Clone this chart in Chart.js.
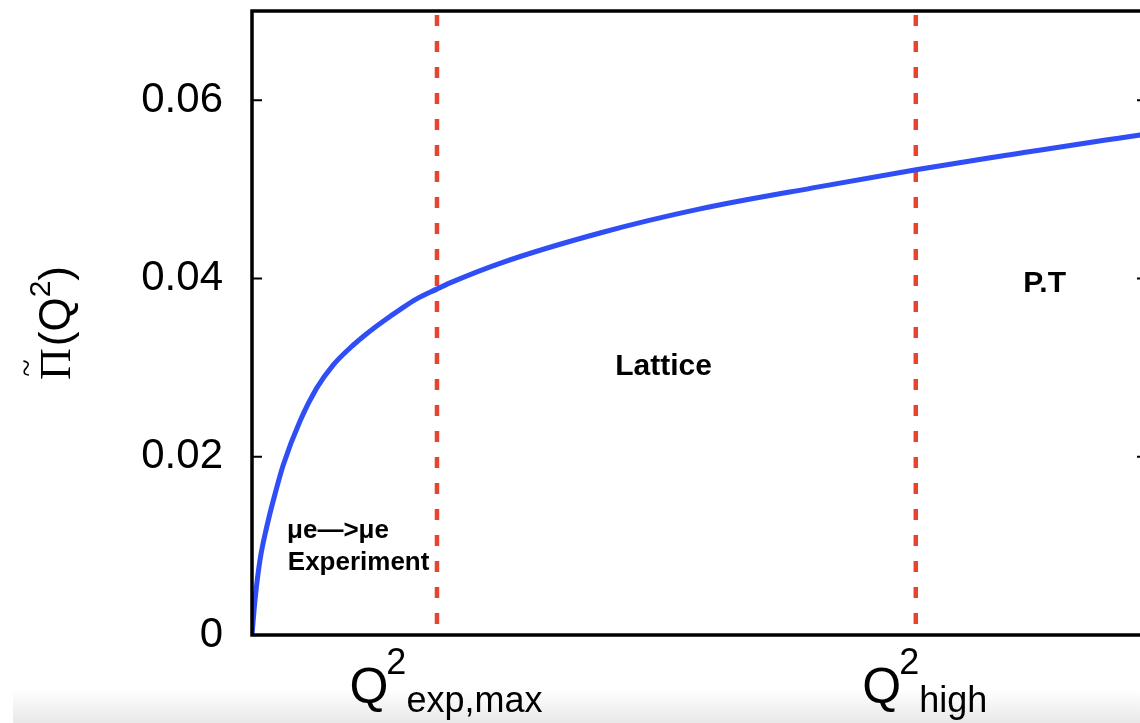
<!DOCTYPE html>
<html>
<head>
<meta charset="utf-8">
<script src="https://cdn.jsdelivr.net/npm/chart.js@4.4.0/dist/chart.umd.min.js"></script>
<style>
  html, body { margin: 0; padding: 0; background: #fff; overflow: hidden; }
  #wrap { position: relative; width: 1140px; height: 723px; overflow: hidden; }
  #shade { position: absolute; left: 13px; top: 690px; width: 1127px; height: 33px;
           background: linear-gradient(#ffffff, #e8e8e8); }
  canvas { position: absolute; left: 0; top: 0; }
</style>
</head>
<body>
<div id="wrap">
  <div id="shade"></div>
  <canvas id="chart" width="1150" height="723"></canvas>
</div>
<script>
// Q^2 (arbitrary units) and the subtracted vacuum polarisation
const qValues = [0, 0.040, 0.107, 0.197, 0.308, 0.420, 0.644, 0.868, 1.090, 1.314, 1.538, 1.760, 1.984, 2.208, 2.477, 2.655, 3.325, 4.666, 6.007, 7.616, 8.903, 10.03, 11.91, 12.0];
const piValues = [0, 0.0039, 0.0084, 0.0121, 0.0158, 0.0191, 0.0240, 0.0277, 0.0303, 0.0322, 0.0338, 0.0352, 0.0365, 0.0377, 0.0388, 0.0395, 0.0417, 0.0451, 0.0478, 0.0503, 0.0522, 0.0537, 0.0561, 0.0562];

// vertical region boundaries
const boundaryQ = [2.48, 8.90];
const boundarySub = ['exp,max', 'high'];

// y ticks
const yTicks = [0, 0.02, 0.04, 0.06];
const yMax = 0.07;
const qMax = 12;

// region labels: text, q, pi (baseline, left aligned)
const regionText = ['\u03bce\u2014>\u03bce', 'Experiment', 'Lattice', 'P.T'];
const regionQ = [0.47, 0.48, 4.87, 10.34];
const regionPi = [0.0109, 0.0073, 0.0292, 0.0385];
const regionSize = [26, 26, 30, 30];

const curve = qValues.map((q, i) => ({ x: q, y: piValues[i] }));

const boundarySets = boundaryQ.map(q => ({
  data: [{ x: q, y: yMax }, { x: q, y: 0 }],
  borderColor: '#e8432f',
  borderWidth: 4.5,
  borderDash: [11, 15],
  borderDashOffset: -4,
  pointRadius: 0,
  order: 1
}));

// frame + inward ticks, annotations, axis labels
const decorations = {
  id: 'decorations',
  afterDraw(chart) {
    const ctx = chart.ctx;
    const a = chart.chartArea;
    const xs = chart.scales.x;
    const ys = chart.scales.y;
    ctx.save();

    // frame
    ctx.strokeStyle = '#000';
    ctx.lineWidth = 3.5;
    ctx.strokeRect(a.left, a.top, a.right - a.left, a.bottom - a.top);

    // inward ticks on both sides
    ctx.lineWidth = 2;
    yTicks.forEach(v => {
      const y = ys.getPixelForValue(v);
      ctx.beginPath();
      ctx.moveTo(a.left, y); ctx.lineTo(a.left + 10, y);
      ctx.moveTo(a.right, y); ctx.lineTo(a.right - 10, y);
      ctx.stroke();
    });

    // region labels
    ctx.fillStyle = '#000';
    ctx.textBaseline = 'alphabetic';
    ctx.textAlign = 'left';
    regionText.forEach((t, i) => {
      ctx.font = 'bold ' + regionSize[i] + 'px "Liberation Sans", Arial, sans-serif';
      ctx.fillText(t, xs.getPixelForValue(regionQ[i]), ys.getPixelForValue(regionPi[i]));
    });

    // x labels Q^2_sub under each boundary
    boundaryQ.forEach((q, i) => {
      const big = '50px "Liberation Sans", Arial, sans-serif';
      const small = '36px "Liberation Sans", Arial, sans-serif';
      ctx.font = big;
      const wQ = ctx.measureText('Q').width;
      ctx.font = small;
      const w2 = ctx.measureText('2').width;
      const wS = ctx.measureText(boundarySub[i]).width;
      const total = wQ + w2 + wS;
      const x = xs.getPixelForValue(q) + 10 - total / 2;
      const base = 703;
      ctx.font = big;
      ctx.fillText('Q', x, base);
      ctx.font = small;
      ctx.fillText('2', x + wQ - 2, base - 29);
      ctx.fillText(boundarySub[i], x + wQ + w2 - 2, base + 9);
    });

    // y axis title, rotated
    ctx.translate(70, 380);
    ctx.rotate(-Math.PI / 2);
    ctx.font = '44px "Liberation Serif", "Times New Roman", serif';
    const wPi = ctx.measureText('\u03a0').width;
    ctx.fillText('\u03a0', 0, 0);
    ctx.font = '32px "Liberation Serif", serif';
    const wT = ctx.measureText('~').width;
    ctx.fillText('~', (wPi - wT) / 2 - 4, -33);
    let x = wPi + 2;
    ctx.font = '44px "Liberation Sans", Arial, sans-serif';
    ctx.fillText('(Q', x, 0);
    x += ctx.measureText('(Q').width;
    ctx.font = '30px "Liberation Sans", Arial, sans-serif';
    ctx.fillText('2', x, -20);
    x += ctx.measureText('2').width;
    ctx.font = '44px "Liberation Sans", Arial, sans-serif';
    ctx.fillText(')', x, 0);

    ctx.restore();
  }
};

const chart = new Chart(document.getElementById('chart').getContext('2d'), {
  type: 'line',
  data: {
    datasets: [{
      data: curve,
      borderColor: '#2f4ef6',
      borderWidth: 5,
      pointRadius: 0,
      cubicInterpolationMode: 'monotone',
      order: 0
    }].concat(boundarySets)
  },
  options: {
    responsive: false,
    animation: false,
    devicePixelRatio: 1,
    layout: { padding: { top: 11, right: 3, left: 0, bottom: 0 } },
    plugins: { legend: { display: false }, tooltip: { enabled: false } },
    scales: {
      x: {
        type: 'linear',
        min: 0,
        max: qMax,
        grid: { display: false },
        border: { display: false },
        ticks: { display: false },
        afterFit(scale) {
          scale.height = 88;
          scale.paddingLeft = 0; scale.paddingRight = 0;
        }
      },
      y: {
        min: 0,
        max: yMax,
        grid: { display: false, drawTicks: false },
        border: { display: false },
        afterBuildTicks(scale) { scale.ticks = yTicks.map(v => ({ value: v })); },
        afterFit(scale) {
          scale.width = 252;
          scale.paddingTop = 0; scale.paddingBottom = 0;
        },
        ticks: {
          padding: 29,
          color: '#000',
          font: { family: '"Liberation Sans", Arial, sans-serif', size: 42 },
          callback: v => (v === 0 ? '0' : v.toFixed(2))
        }
      }
    }
  },
  plugins: [decorations]
});
</script>
</body>
</html>
